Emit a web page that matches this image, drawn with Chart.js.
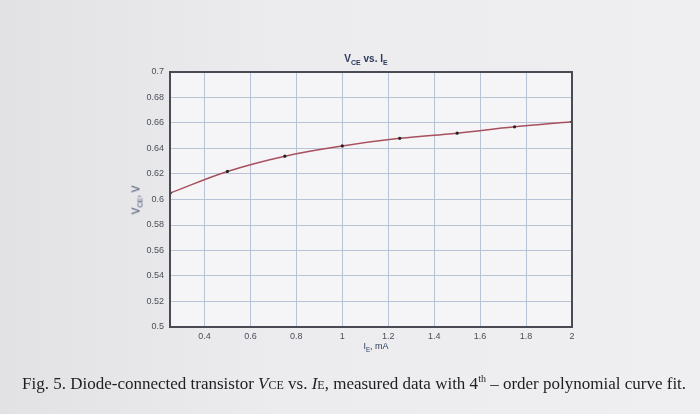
<!DOCTYPE html>
<html>
<head>
<meta charset="utf-8">
<script src="https://cdn.jsdelivr.net/npm/chart.js@4.4.0/dist/chart.umd.min.js"></script>
<style>
  html, body { margin: 0; padding: 0; }
  body { width: 700px; height: 414px; position: relative; overflow: hidden;
         background: linear-gradient(90deg, #e2e2e4 0%, #ececee 40%, #efeff1 100%); }
  #wrap { position: absolute; left: 0; top: 0; width: 700px; height: 414px; }
  .lbl { position: absolute; font-family: "Liberation Sans", Arial, sans-serif; color: #2a3a5a; white-space: nowrap; }
  .lbl sub { font-size: 70%; vertical-align: -3px; }
  #title { left: 366px; top: 53px; transform: translateX(-50%); font-size: 10px; font-weight: bold; }
  #xlab { left: 376px; top: 341px; transform: translateX(-50%); font-size: 9px; }
  #ylab { left: 137px; top: 200px; transform: translate(-50%, -50%) rotate(-90deg); font-size: 10px; color: #2c3c60; }
  #caption { position: absolute; left: 22px; top: 373px; font-family: "Liberation Serif", "Times New Roman", serif;
             font-size: 17px; color: #1e1e22; white-space: nowrap; }
  #caption .sc { font-size: 12px; }
  #caption sup { font-size: 10px; }
</style>
</head>
<body>
<div id="wrap"><canvas id="chart" width="700" height="414"></canvas></div>
<div class="lbl" id="title">V<sub>CE</sub> vs. I<sub>E</sub></div>
<div class="lbl" id="xlab">I<sub>E</sub>, mA</div>
<div class="lbl" id="ylab">V<sub>CE</sub>, V</div>
<div id="caption">Fig. 5. Diode-connected transistor <i>V</i><span class="sc">CE</span> vs. <i>I</i><span class="sc">E</span>, measured data with 4<sup>th</sup> – order polynomial curve fit.</div>
<script>
// measured points (I_E in mA, V_CE in V)
const currentMA = [0.25, 0.5, 0.75, 1.0, 1.25, 1.5, 1.75, 2.0];
const vceVolts = [0.605, 0.622, 0.634, 0.642, 0.648, 0.652, 0.657, 0.661];

const xTicks = [0.4, 0.6, 0.8, 1, 1.2, 1.4, 1.6, 1.8, 2];
const yTicks = [0.5, 0.52, 0.54, 0.56, 0.58, 0.6, 0.62, 0.64, 0.66, 0.68, 0.7];

const gridColor = '#b9c3d6';

// plot box (MATLAB style frame)
const boxPlugin = {
    id: 'box',
    beforeDraw(chart) {
        const a = chart.chartArea, c = chart.ctx;
        c.save();
        c.fillStyle = '#f5f5f7';
        c.fillRect(a.left, a.top, a.right - a.left, a.bottom - a.top);
        c.restore();
    },
    afterDraw(chart) {
        const a = chart.chartArea, c = chart.ctx;
        c.save();
        c.strokeStyle = '#4a4a55';
        c.lineWidth = 2;
        c.strokeRect(a.left, a.top, a.right - a.left, a.bottom - a.top);
        c.restore();
    }
};

let ctx = document.getElementById("chart").getContext("2d");
window.vceChart = new Chart(ctx, {
    type: 'scatter',
    data: {
        datasets: [{
            label: 'V_CE',
            data: currentMA.map((x, i) => ({x: x, y: vceVolts[i]})),
            showLine: true,
            tension: 0.4,
            borderColor: '#a8505e',
            borderWidth: 1.5,
            pointRadius: 1.6,
            pointBackgroundColor: '#222',
            pointBorderColor: '#222',
            pointBorderWidth: 0
        }]
    },
    options: {
        responsive: false,
        animation: false,
        layout: {padding: {top: 72, right: 128, left: 0, bottom: 0}},
        plugins: {
            legend: {display: false},
            title: {display: false},
            tooltip: {enabled: false}
        },
        scales: {
            x: {
                type: 'linear',
                min: 0.25,
                max: 2,
                afterBuildTicks: s => { s.ticks = xTicks.map(v => ({value: v})); },
                afterFit: s => { s.height = 87; },
                grid: {color: gridColor, lineWidth: 1, drawTicks: false},
                border: {display: false},
                ticks: {
                    padding: 4,
                    color: '#4a4f5a',
                    font: {family: 'Liberation Sans', size: 9},
                    callback: v => String(Math.round(v * 10) / 10)
                }
            },
            y: {
                min: 0.5,
                max: 0.7,
                afterBuildTicks: s => { s.ticks = yTicks.map(v => ({value: v})); },
                afterFit: s => { s.width = 170; },
                grid: {color: gridColor, lineWidth: 1, drawTicks: false},
                border: {display: false},
                ticks: {
                    padding: 6,
                    color: '#4a4f5a',
                    font: {family: 'Liberation Sans', size: 9},
                    callback: v => String(Math.round(v * 100) / 100)
                }
            }
        }
    },
    plugins: [boxPlugin]
});
</script>
</body>
</html>
